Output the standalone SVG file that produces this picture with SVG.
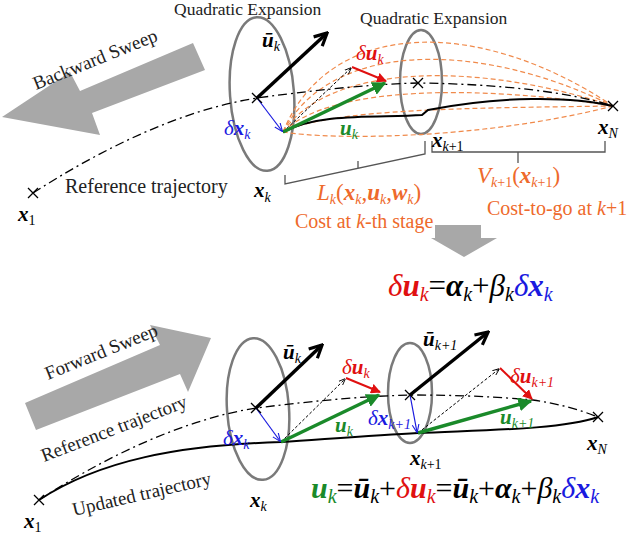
<svg xmlns="http://www.w3.org/2000/svg" width="640" height="537" viewBox="0 0 640 537">
<defs>
<style>
text{font-family:"Liberation Serif","Times New Roman",serif;}
.t{font-size:17.5px;fill:#222}
.l{font-size:21px;font-style:italic}
.b{font-weight:bold}
.s{font-size:14px}
.o{fill:#ee6a2c}
.ell{fill:none;stroke:#7a7a7a;stroke-width:2.5}
.ref{fill:none;stroke:#000;stroke-width:1.3;stroke-dasharray:9,4,2,4}
.sol{fill:none;stroke:#000;stroke-width:2}
.od{fill:none;stroke:#f08a4b;stroke-width:1.2;stroke-dasharray:5,3}
.br{fill:none;stroke:#555;stroke-width:1.3}
.cr{stroke:#000;stroke-width:1.3}
</style>
<marker id="mk" viewBox="0 0 10 10" refX="8" refY="5" markerWidth="4.5" markerHeight="4.5" orient="auto"><path d="M1,1 L9,5 L1,9" fill="none" stroke="#000" stroke-width="2"/></marker>
<marker id="mg" viewBox="0 0 10 10" refX="9" refY="5" markerWidth="4" markerHeight="4" orient="auto"><path d="M0,0 L10,5 L0,10 z" fill="#1a8a2a"/></marker>
<marker id="mr" viewBox="0 0 10 10" refX="9" refY="5" markerWidth="5" markerHeight="5" orient="auto"><path d="M0,0 L10,5 L0,10 z" fill="#e01010"/></marker>
<marker id="mb" viewBox="0 0 10 10" refX="9" refY="5" markerWidth="7" markerHeight="7" orient="auto"><path d="M0,1 L10,5 L0,9" fill="none" stroke="#1a1adf" stroke-width="1.3"/></marker>
<marker id="md" viewBox="0 0 10 10" refX="9" refY="5" markerWidth="7" markerHeight="7" orient="auto"><path d="M0,1 L10,5 L0,9" fill="none" stroke="#000" stroke-width="1.3"/></marker>
</defs>
<rect width="640" height="537" fill="#fff"/>

<g id="sweeps">
<polygon points="193,43 205,70 92,113 100,135 2,117 70,72 80,91" fill="#a8a8a8"/>
<text class="t" style="font-size:19px" transform="translate(36,90) rotate(-22)">Backward Sweep</text>
<polygon points="25,403 36,430 180,374 188,392 211,338 150,325 160,345" fill="#a8a8a8"/>
<text class="t" style="font-size:19px" transform="translate(48,380) rotate(-22)">Forward Sweep</text>
<polygon points="435,225 481,225 481,238 497,238 464,257 431,238 435,238" fill="#a8a8a8"/>
</g>

<g id="top-ellipses">
<ellipse class="ell" cx="262" cy="94" rx="32" ry="77" transform="rotate(-4 262 94)"/>
<ellipse class="ell" cx="421" cy="82" rx="21" ry="52"/>
<text class="t" x="174" y="15">Quadratic Expansion</text>
<text class="t" x="360" y="24">Quadratic Expansion</text>
</g>

<g id="connectors">
<path class="od" d="M283,132 C330,17 480,17 613,106"/>
<path class="od" d="M283,132 C330,40 480,40 613,106"/>
<path class="od" d="M283,132 C330,62 480,62 613,106"/>
<path class="od" d="M283,132 C330,85 480,85 613,106"/>
<path class="od" d="M283,132 C330,108 480,108 613,106"/>
<path class="od" d="M283,132 C330,140 480,140 613,106"/>
<path class="ref" d="M33,193 C100,150 180,110 257,98 C330,88 380,84 418,83 C500,84 570,92 613,106"/>
<path class="sol" d="M283,132 C320,112 380,118 422,115 L428,110 C500,96 570,96 613,106"/>
<line x1="257" y1="98" x2="326" y2="34" stroke="#000" stroke-width="3.5" marker-end="url(#mk)"/>
<line x1="283" y1="132" x2="351" y2="68" stroke="#000" stroke-width="1" stroke-dasharray="3,2" marker-end="url(#md)"/>
<line x1="352" y1="67" x2="386" y2="81" stroke="#e01010" stroke-width="2" marker-end="url(#mr)"/>
<line x1="283" y1="132" x2="385" y2="83" stroke="#1a8a2a" stroke-width="3.5" marker-end="url(#mg)"/>
<line x1="257" y1="98" x2="282" y2="131" stroke="#1a1adf" stroke-width="1.2" marker-end="url(#mb)"/>
<path class="cr" d="M28,188 L38,198 M38,188 L28,198 M252,93 L262,103 M262,93 L252,103 M413,78 L423,88 M423,78 L413,88 M608,101 L618,111 M618,101 L608,111"/>
<path class="br" d="M285,175 L285,184 L425,154 L425,141 M358,169 L358,161"/>
<path class="br" d="M432,141 L432,152 L605,152 L605,141 M518,152 L518,163"/>

<ellipse class="ell" cx="258" cy="409" rx="31" ry="71" transform="rotate(-4 258 409)"/>
<ellipse class="ell" cx="410" cy="393" rx="22" ry="50"/>
<path class="ref" d="M39,500 C100,460 180,420 256,408 C320,400 370,396 410,395 C460,395 500,397 533,400 C560,404 580,410 598,417"/>
<path class="sol" d="M39,500 C100,460 180,445 281,442 C340,438 380,435 418,433 C480,430 560,430 598,417"/>
<line x1="256" y1="408" x2="321" y2="346" stroke="#000" stroke-width="3.5" marker-end="url(#mk)"/>
<line x1="281" y1="442" x2="345" y2="379" stroke="#000" stroke-width="1" stroke-dasharray="3,2" marker-end="url(#md)"/>
<line x1="346" y1="378" x2="380" y2="392" stroke="#e01010" stroke-width="2" marker-end="url(#mr)"/>
<line x1="281" y1="442" x2="379" y2="395" stroke="#1a8a2a" stroke-width="3.5" marker-end="url(#mg)"/>
<line x1="256" y1="408" x2="280" y2="441" stroke="#1a1adf" stroke-width="1.2" marker-end="url(#mb)"/>
<line x1="410" y1="395" x2="487" y2="333" stroke="#000" stroke-width="3.5" marker-end="url(#mk)"/>
<line x1="418" y1="433" x2="499" y2="369" stroke="#000" stroke-width="1" stroke-dasharray="3,2" marker-end="url(#md)"/>
<line x1="500" y1="368" x2="532" y2="399" stroke="#e01010" stroke-width="2" marker-end="url(#mr)"/>
<line x1="418" y1="433" x2="531" y2="401" stroke="#1a8a2a" stroke-width="3.5" marker-end="url(#mg)"/>
<line x1="410" y1="395" x2="417" y2="432" stroke="#1a1adf" stroke-width="1.2" marker-end="url(#mb)"/>
<path class="cr" d="M34,495 L44,505 M44,495 L34,505 M251,403 L261,413 M261,403 L251,413 M405,390 L415,400 M415,390 L405,400 M593,412 L603,422 M603,412 L593,422"/>
</g>

<g id="top-labels">
<text class="l b" x="262" y="47">ū<tspan class="s" dy="4" font-weight="normal">k</tspan></text>
<text class="l" x="356" y="60" fill="#e01010">δ<tspan class="b">u</tspan><tspan class="s" dy="4">k</tspan></text>
<text class="l" x="224" y="135" fill="#1a1adf">δ<tspan class="b">x</tspan><tspan class="s" dy="4">k</tspan></text>
<text class="l b" x="340" y="135" fill="#1a8a2a">u<tspan class="s" dy="4" font-weight="normal">k</tspan></text>
<text class="l b" x="254" y="197">x<tspan class="s" dy="5" font-weight="normal">k</tspan></text>
<text class="l b" x="18" y="221">x<tspan class="s" dy="4" font-weight="normal" font-style="normal">1</tspan></text>
<text class="l b" x="432" y="147">x<tspan class="s" dy="4" font-weight="normal">k<tspan font-style="normal">+1</tspan></tspan></text>
<text class="l b" x="598" y="134">x<tspan class="s" dy="4" font-weight="normal">N</tspan></text>
<text class="t" style="font-size:20px" x="65" y="193">Reference trajectory</text>
<text class="l o" x="317" y="200" style="font-size:23px">L<tspan class="s" dy="4">k</tspan><tspan dy="-4" font-style="normal">(</tspan><tspan class="b">x</tspan><tspan class="s" dy="4">k</tspan><tspan dy="-4" font-style="normal">,</tspan><tspan class="b">u</tspan><tspan class="s" dy="4">k</tspan><tspan dy="-4" font-style="normal">,</tspan><tspan class="b">w</tspan><tspan class="s" dy="4">k</tspan><tspan dy="-4" font-style="normal">)</tspan></text>
<text class="o" font-size="20" x="295" y="228">Cost at <tspan font-style="italic">k</tspan>-th stage</text>
<text class="l o" x="477" y="183" style="font-size:23px">V<tspan class="s" dy="4">k<tspan font-style="normal">+1</tspan></tspan><tspan dy="-4" font-style="normal">(</tspan><tspan class="b">x</tspan><tspan class="s" dy="4">k<tspan font-style="normal">+1</tspan></tspan><tspan dy="-4" font-style="normal">)</tspan></text>
<text class="o" font-size="20" x="487" y="215">Cost-to-go at <tspan font-style="italic">k</tspan>+1</text>
<text x="388" y="296" font-size="31" font-style="italic"><tspan fill="#e01010">δ<tspan font-weight="bold">u</tspan><tspan font-size="20" dy="5">k</tspan></tspan><tspan dy="-5" font-style="normal">=</tspan><tspan font-weight="bold">α</tspan><tspan font-size="20" dy="5">k</tspan><tspan dy="-5" font-style="normal">+</tspan>β<tspan font-size="20" dy="5">k</tspan><tspan dy="-5" fill="#1a1adf">δ<tspan font-weight="bold">x</tspan><tspan font-size="20" dy="5">k</tspan></tspan></text>
</g>

<g id="bottom-labels">
<text class="l b" x="283" y="359">ū<tspan class="s" dy="4" font-weight="normal">k</tspan></text>
<text class="l" x="342" y="374" fill="#e01010">δ<tspan class="b">u</tspan><tspan class="s" dy="4">k</tspan></text>
<text class="l" x="223" y="445" fill="#1a1adf">δ<tspan class="b">x</tspan><tspan class="s" dy="4">k</tspan></text>
<text class="l b" x="335" y="432" fill="#1a8a2a">u<tspan class="s" dy="4" font-weight="normal">k</tspan></text>
<text class="l b" x="423" y="346">ū<tspan class="s" dy="4" font-weight="normal">k+1</tspan></text>
<text class="l" x="510" y="383" fill="#e01010">δ<tspan class="b">u</tspan><tspan class="s" dy="4">k+1</tspan></text>
<text class="l" x="368" y="425" fill="#1a1adf">δ<tspan class="b">x</tspan><tspan class="s" dy="4">k+1</tspan></text>
<text class="l b" x="500" y="424" fill="#1a8a2a">u<tspan class="s" dy="4" font-weight="normal">k+1</tspan></text>
<text class="l b" x="410" y="465">x<tspan class="s" dy="4" font-weight="normal">k<tspan font-style="normal">+1</tspan></tspan></text>
<text class="l b" x="587" y="450">x<tspan class="s" dy="4" font-weight="normal">N</tspan></text>
<text class="l b" x="250" y="507">x<tspan class="s" dy="4" font-weight="normal">k</tspan></text>
<text class="l b" x="24" y="528">x<tspan class="s" dy="4" font-weight="normal" font-style="normal">1</tspan></text>
<text class="t" style="font-size:19px" transform="translate(44,462) rotate(-21)">Reference trajectory</text>
<text class="t" style="font-size:19px" transform="translate(74,516) rotate(-13)">Updated trajectory</text>
<text x="311" y="498" font-size="30" font-style="italic"><tspan fill="#1a8a2a" font-weight="bold">u<tspan font-size="20" dy="5" font-weight="normal">k</tspan></tspan><tspan dy="-5" font-style="normal">=</tspan><tspan font-weight="bold">ū</tspan><tspan font-size="20" dy="5">k</tspan><tspan dy="-5" font-style="normal">+</tspan><tspan fill="#e01010">δ<tspan font-weight="bold">u</tspan><tspan font-size="20" dy="5">k</tspan></tspan><tspan dy="-5" font-style="normal">=</tspan><tspan font-weight="bold">ū</tspan><tspan font-size="20" dy="5">k</tspan><tspan dy="-5" font-style="normal">+</tspan><tspan font-weight="bold">α</tspan><tspan font-size="20" dy="5">k</tspan><tspan dy="-5" font-style="normal">+</tspan>β<tspan font-size="20" dy="5">k</tspan><tspan dy="-5" fill="#1a1adf">δ<tspan font-weight="bold">x</tspan><tspan font-size="20" dy="5">k</tspan></tspan></text>
</g>
</svg>
